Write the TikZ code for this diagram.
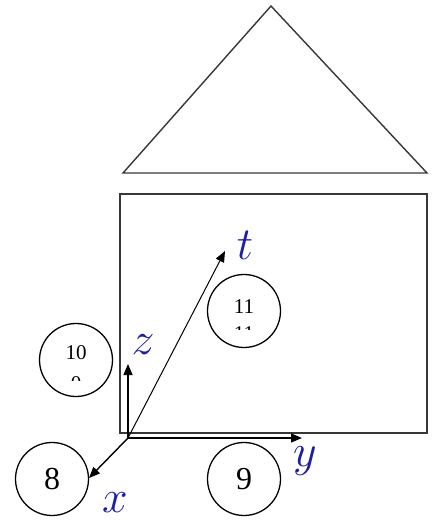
\RequirePackage{fix-cm}
\documentclass[tikz,border=0pt]{standalone}
\usepackage{fontspec}
\setmainfont{Liberation Serif}
\usetikzlibrary{arrows.meta}
\definecolor{axblue}{RGB}{30,30,165}
\definecolor{edge}{RGB}{55,55,55}
\DeclareMathSizes{46}{46}{32}{23}
\tikzset{
  circ/.style={draw, circle, line width=1.3pt, minimum size=73pt, inner sep=0pt},
  axis/.style={line width=1.4pt, -{Triangle[length=11pt,width=9pt]}},
  axlabel/.style={text=axblue, font=\fontsize{46}{46}\selectfont, inner sep=0pt},
  outline/.style={draw=edge, line width=1.4pt}
}
\begin{document}
\begin{tikzpicture}[x=1pt,y=-1pt]
\useasboundingbox (0,0) rectangle (432,523);
% roof
\draw[outline] (271,6) -- (427,173) -- (123,173) -- cycle;
% body
\draw[outline] (120,194) rectangle (427,433);
% axes
\coordinate (o) at (128,438);
\coordinate (ye) at (302,438);
\coordinate (ze) at (128,364);
\coordinate (xe) at (89,478);
\coordinate (te) at (225,251);
\draw[axis] (o) -- (ye);
\draw[axis] (o) -- (ze);
\draw[axis] (o) -- (xe);
\draw[line width=1pt, -{Triangle[length=11pt,width=9pt]}] (o) -- (te);
\node[axlabel] (lt) at (245,245) {$t$};
\node[axlabel] (lz) at (143,345) {$z$};
\node[axlabel] (ly) at (305,461) {$y$};
\node[axlabel] (lx) at (115,503) {$x$};
% circles
\node[circ] (c8) at (52,479) {};
\node[font=\fontsize{32}{32}\selectfont] (t8) at (52,479) {8};
\node[circ] (c9) at (244,479) {};
\node[font=\fontsize{32}{32}\selectfont] (t9) at (244,479) {9};
\node[circ] (c10) at (76,360) {};
\node[font=\fontsize{21}{21}\selectfont] (t10) at (76,353) {10};
\begin{scope}
\clip (40,370) rectangle (112,380);
\node[font=\fontsize{21}{21}\selectfont] (t10b) at (76,384) {0};
\end{scope}
\node[circ] (c11) at (244,311) {};
\node[font=\fontsize{21}{21}\selectfont] (t11) at (244,307) {11};
\begin{scope}
\clip (210,320) rectangle (280,329);
\node[font=\fontsize{21}{21}\selectfont] (t11b) at (244,334) {11};
\end{scope}
\end{tikzpicture}
\end{document}
